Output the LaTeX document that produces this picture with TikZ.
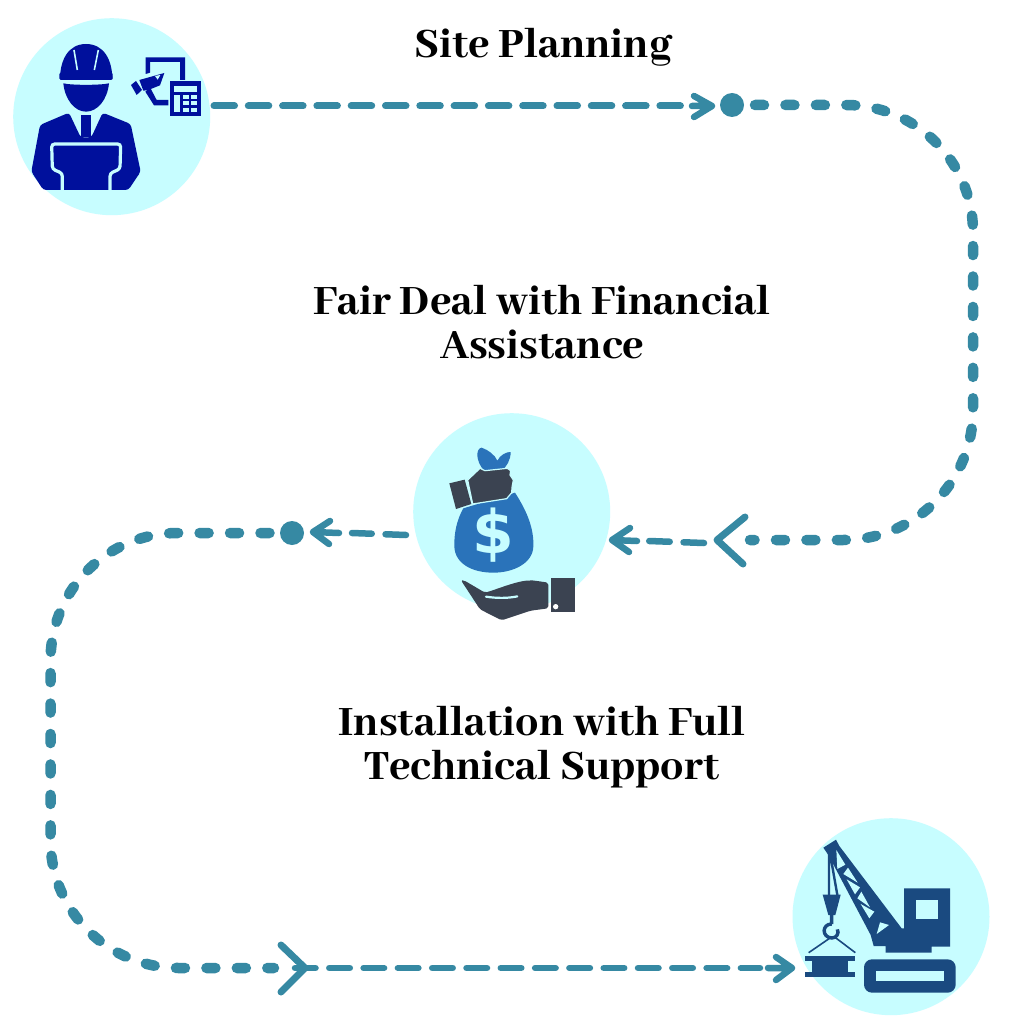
\documentclass[tikz,border=0pt]{standalone}
\usepackage{fontspec}
\newfontfamily\ttl{Abhaya Libre ExtraBold}
\setsansfont{DejaVu Sans}
\definecolor{halo}{HTML}{C7FDFF}
\definecolor{teal}{HTML}{3689A3}
\definecolor{navy}{HTML}{00109C}
\definecolor{bagblue}{HTML}{2A73BA}
\definecolor{slate}{HTML}{3B4351}
\definecolor{crane}{HTML}{1A4A80}
\tikzset{
  disc/.style={circle,fill=halo,minimum size=197pt,inner sep=0pt,outer sep=0pt},
  waypoint/.style={circle,fill=teal,minimum size=24pt,inner sep=0pt,outer sep=0pt},
  title/.style={font=\ttl\fontsize{46}{44}\selectfont,align=center,text=black,inner sep=0pt},
  thick dash/.style={draw=teal,line width=10.5pt,line cap=round,dash pattern=on 9pt off 21.45pt},
  thin dash/.style={draw=teal,line width=6.5pt,line cap=round,dash pattern=on 20.5pt off 13.8pt},
  chev/.style={draw=teal,line width=7pt,line cap=round,line join=round},
  tip/.style={draw=teal,line width=6.5pt,line cap=round,line join=round},
  icon/.style={x=0.33333pt,y=-0.33333pt},
}
\begin{document}
\begin{tikzpicture}[x=1pt,y=-1pt]
\useasboundingbox (0,0) rectangle (1024,1024);
\fill[white] (0,0) rectangle (1024,1024);
% discs
\node[disc] (c1) at (111.7,116.7) {};
\node[disc] (c2) at (511.7,511.7) {};
\node[disc] (c3) at (891,916.7) {};
% titles
\node[title] (t1) at (543,47) {Site Planning};
\node[title] (t2) at (542,322) {Fair Deal with Financial\\Assistance};
\node[title] (t3) at (542,747) {Installation with Full\\Technical Support};
% waypoints
\node[waypoint] (d1) at (732,105) {};
\node[waypoint] (d2) at (292,533) {};
% free ends
\coordinate (a0) at (214,106);
\coordinate (a1) at (686,106);
\coordinate (a2) at (712,106);
\coordinate (b0) at (755,105);
\coordinate (b1) at (846,105);
\coordinate (b2) at (973,232);
\coordinate (b3) at (973,410);
\coordinate (b4) at (843,540);
\coordinate (b5) at (750,540);
\coordinate (k1) at (717,540);
\coordinate (e0) at (704,543);
\coordinate (e1) at (649,541);
\coordinate (e2) at (612,540);
\coordinate (f0) at (406,535);
\coordinate (f1) at (352,533);
\coordinate (f2) at (313,532);
\coordinate (g0) at (269.5,533);
\coordinate (g1) at (178,533);
\coordinate (g2) at (50.5,661);
\coordinate (g3) at (50.5,840);
\coordinate (g4) at (179,968);
\coordinate (g5) at (274,968);
\coordinate (k2) at (305,968);
\coordinate (h0) at (295,968);
\coordinate (h1) at (760,968);
\coordinate (h2) at (792,968);
% connectors
\draw[thin dash,line width=7pt] (a0) -- (a1);
\draw[tip] (694,96) -- (a2) -- (694,117) (692,106) -- (a2);
\draw[thick dash] (b0) -- (b1) .. controls (916,105) and (973,162) .. (b2) -- (b3) .. controls (973,482) and (915,540) .. (b4) -- (b5);
\draw[chev] (745,517) -- (k1) -- (743,564);
\draw[thin dash] (e0) -- (e1);
\draw[tip] (630,528) -- (e2) -- (629,552) (637,541) -- (e2);
\draw[thin dash] (f0) -- (f1);
\draw[tip] (330,521) -- (f2) -- (329,544) (339,533) -- (f2);
\draw[thick dash] (g0) -- (g1) .. controls (107,533) and (50.5,590) .. (g2) -- (g3) .. controls (50.5,911) and (108,968) .. (g4) -- (g5);
\draw[chev] (281,945) -- (k2) -- (281,992);
\draw[thin dash] (h0) -- (h1);
\draw[tip] (776,957) -- (h2) -- (776,980) (768,968) -- (h2);
% worker icon
\begin{scope}[icon]
\fill[navy] (180,238) .. controls (180,180) and (205,132) .. (258,132) .. controls (312,132) and (337,180) .. (337,238) -- cycle;
\draw[halo,line width=1.6pt] (222,150) -- (232,210) (295,150) -- (283,210);
\fill[navy,rounded corners=1.5pt] (178,218) rectangle (338,240);
\fill[navy] (190,250) .. controls (215,256) and (300,256) .. (327,250) .. controls (322,300) and (292,335) .. (258,335) .. controls (225,335) and (195,300) .. (190,250) -- cycle;
\fill[navy,rounded corners=3pt] (207,338) -- (242,412) -- (274,412) -- (308,338) -- (392,372) -- (422,515) -- (385,570) -- (130,570) -- (94,515) -- (120,375) -- cycle;
\fill[navy] (243,345) -- (273,345) -- (273,412) -- (243,412) -- cycle;
\draw[halo,line width=3.2pt,rounded corners=3pt] (187,572) -- (187,520) -- (157,507) -- (155,432) -- (362,432) -- (360,507) -- (330,520) -- (330,572);
% plan and calculator
\fill[navy] (437,172) -- (555,172) -- (555,240) -- (540,240) -- (540,186) -- (450,186) -- (450,218) -- (437,222) -- cycle;
\fill[navy] (418,240) -- (493,219) -- (480,256) -- (445,270) -- (430,272) -- cycle;
\fill[halo] (465,228) -- (481,225) -- (473,239) -- cycle;
\fill[navy] (393,255) -- (408,243) -- (426,270) -- (410,285) -- cycle;
\fill[navy] (450,262) -- (470,300) -- (505,300) -- (505,316) -- (462,316) -- (436,275) -- cycle;
\fill[navy] (510,244) rectangle (604,347);
\fill[halo] (522,258) rectangle (592,276);
\fill[halo] (522,285) rectangle (540,335);
\foreach \yy in {285,304,323} \foreach \xx in {548,572} \fill[halo] (\xx,\yy) rectangle ++(18,12);
\end{scope}
% money icon
\begin{scope}[shift={(400,400)},icon]
\fill[bagblue] (252,212) .. controls (225,180) and (228,145) .. (245,143) .. controls (265,150) and (285,165) .. (292,182) .. controls (300,165) and (320,155) .. (332,156) .. controls (332,180) and (320,200) .. (305,212) -- cycle;
\fill[bagblue] (345,278) .. controls (385,340) and (402,390) .. (400,440) .. controls (398,490) and (340,518) .. (280,518) .. controls (215,518) and (165,490) .. (163,440) .. controls (162,400) and (170,360) .. (190,325) -- cycle;
\fill[slate,draw=halo,line width=1.2pt] (203,240) -- (240,205) -- (255,212) -- (322,205) -- (332,212) -- (330,225) -- (340,240) -- (336,262) -- (335,278) -- (320,296) -- (218,312) -- cycle;
\fill[slate] (148,250) -- (194,239) -- (214,312) -- (168,327) -- cycle;
\node[font=\sffamily\bfseries\fontsize{60}{60}\selectfont,text=halo,inner sep=0pt] (dollar) at (281,405) {\$};
\fill[slate,rounded corners=2pt] (183,541) -- (192,541) -- (255,578) .. controls (300,565) and (360,538) .. (405,542) -- (445,548) -- (445,625) -- (392,632) -- (305,661) -- (240,628) -- cycle;
\draw[halo,line width=2.2pt,line cap=round] (258,590) .. controls (290,595) and (325,595) .. (352,589);
\fill[slate] (452,535) rectangle (526,636);
\fill[white] (467,620) circle (8);
\end{scope}
% crane icon
\begin{scope}[shift={(780,800)},icon]
\fill[crane] (130,143) -- (168,119) -- (178,138) -- (365,385) -- (372,385) -- (372,265) -- (510,265) -- (510,440) -- (455,440) -- (455,458) -- (317,458) -- (317,438) -- (281,438) -- (272,405) -- (145,165) -- cycle;
\fill[halo] (407,300) rectangle (474,358);
\fill[halo] (169,150) -- (196,194) -- (172,207) -- cycle;
\fill[halo] (204,203) -- (233,248) -- (190,222) -- cycle;
\fill[halo] (200,238) -- (225,283) -- (240,262) -- cycle;
\fill[halo] (244,275) -- (270,322) -- (232,295) -- cycle;
\fill[halo] (242,312) -- (268,355) -- (283,335) -- cycle;
\fill[halo] (300,367) -- (327,375) -- (290,402) -- cycle;
\draw[crane,line width=2.4pt] (147,150) -- (147,285) (150,160) -- (172,285);
\fill[crane] (128,284) -- (182,284) -- (166,345) -- (145,345) -- cycle;
\draw[crane,line width=3.4pt] (155,345) -- (155,372) (155,372) .. controls (125,372) and (125,412) .. (155,414) .. controls (170,414) and (178,400) .. (172,388);
\draw[crane,line width=1.6pt] (150,414) -- (86,458) (165,412) -- (226,458);
\fill[crane] (76,468) rectangle (224,484);
\fill[crane] (95,484) rectangle (205,515);
\fill[crane] (76,515) rectangle (224,532);
\fill[crane,rounded corners=8pt] (252,478) rectangle (527,578);
\fill[halo] (287,513) rectangle (492,542);
\end{scope}
\end{tikzpicture}
\end{document}
